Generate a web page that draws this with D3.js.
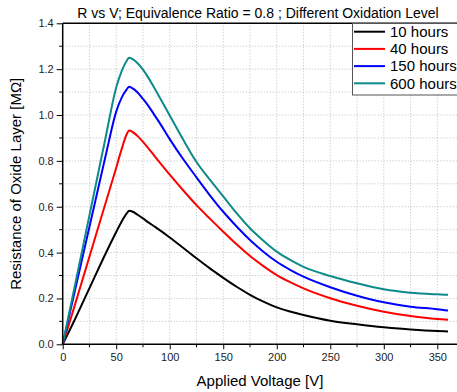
<!DOCTYPE html>
<html><head><meta charset="utf-8">
<script src="https://cdn.jsdelivr.net/npm/d3@7"></script>
<style>body{margin:0;background:#fff;}svg{display:block;font-family:"Liberation Sans",Arial,sans-serif;}</style>
</head><body><svg id="c" width="457" height="392"></svg>
<script>
const voltage = [0,10,20,30,40,50,55,60,62,65,70,75,80,85,90,100,112.5,125,137.5,150,162.5,175,187.5,200,212.5,225,250,275,300,325,350,360];
const r10h  = [0,0.095,0.195,0.295,0.395,0.49,0.535,0.572,0.582,0.579,0.565,0.549,0.532,0.516,0.500,0.466,0.421,0.375,0.331,0.29,0.251,0.216,0.186,0.161,0.143,0.128,0.103,0.087,0.074,0.065,0.058,0.056];
const r40h  = [0,0.15,0.305,0.46,0.615,0.77,0.85,0.918,0.932,0.927,0.908,0.883,0.855,0.826,0.797,0.74,0.672,0.607,0.548,0.491,0.436,0.385,0.341,0.302,0.271,0.244,0.201,0.168,0.142,0.123,0.110,0.107];
const r150h = [0,0.205,0.41,0.615,0.82,1.015,1.075,1.113,1.123,1.117,1.098,1.07,1.04,1.005,0.97,0.895,0.808,0.728,0.65,0.578,0.514,0.455,0.404,0.36,0.325,0.295,0.249,0.212,0.183,0.164,0.153,0.147];
const r600h = [0,0.225,0.45,0.675,0.9,1.12,1.19,1.238,1.25,1.245,1.226,1.198,1.163,1.123,1.082,0.998,0.893,0.795,0.718,0.645,0.572,0.506,0.452,0.404,0.368,0.338,0.298,0.266,0.240,0.225,0.218,0.216];
const seriesNames = ["10 hours","40 hours","150 hours","600 hours"];
const seriesColors = ["#000000","#ff0000","#0000ff","#0e8a8a"];
const xTicks = [0,50,100,150,200,250,300,350];
const yTicks = [0,0.2,0.4,0.6,0.8,1.0,1.2,1.4];
const titleText = "R vs V; Equivalence Ratio = 0.8 ; Different Oxidation Level";
const xLabel = "Applied Voltage [V]";
const yLabel = "Resistance of Oxide Layer [M\u03A9]";

const series = [r10h, r40h, r150h, r600h];
const svg = d3.select("#c");
const L = 62.7, T = 23.3, B = 344.3;
const x = d3.scaleLinear().domain([0,370]).range([L, L + 370*1.0703]);
const y = d3.scaleLinear().domain([0,1.4]).range([B, T]);

// grid
const xMinor = d3.range(0, 371, 25);
const yMinor = d3.range(0, 15).map(i => i/10);
const g = svg.append("g");
g.selectAll(".gx").data(xMinor.filter(v => v > 0)).enter().append("line")
  .attr("x1", d => x(d)).attr("x2", d => x(d)).attr("y1", T).attr("y2", B)
  .attr("stroke", "#bdbdbd").attr("stroke-width", 1).attr("stroke-dasharray", "1,2");
g.selectAll(".gy").data(yMinor.filter(v => v > 0)).enter().append("line")
  .attr("x1", L).attr("x2", x(370)).attr("y1", d => y(d)).attr("y2", d => y(d))
  .attr("stroke", "#bdbdbd").attr("stroke-width", 1).attr("stroke-dasharray", "1,2");

// curves
const line = d3.line().x((d,i) => x(voltage[i])).y(d => y(d)).curve(d3.curveMonotoneX);
series.forEach((s, k) => {
  svg.append("path").attr("d", line(s)).attr("fill", "none")
    .attr("stroke", seriesColors[k]).attr("stroke-width", 2);
});

// axes
const xAxis = d3.axisBottom(x).tickValues(xTicks).tickFormat(d3.format("d")).tickSize(5).tickPadding(4);
const xa = svg.append("g").attr("transform", `translate(0,${B})`).call(xAxis);
const yAxis = d3.axisLeft(y).tickValues(yTicks).tickFormat(d3.format(".1f")).tickSize(6).tickPadding(3);
const ya = svg.append("g").attr("transform", `translate(${L},0)`).call(yAxis);
[xa, ya].forEach(a => {
  a.select(".domain").remove();
  a.selectAll("text").attr("font-size", 11).attr("fill", "#222").attr("font-family", "Liberation Sans, Arial, sans-serif");
  a.selectAll("line").attr("stroke", "#000");
});
// minor ticks
svg.selectAll(".mx").data(xMinor.filter(v => v % 50 !== 0)).enter().append("line")
  .attr("x1", d => x(d)).attr("x2", d => x(d)).attr("y1", B).attr("y2", B + 3).attr("stroke", "#000");
svg.selectAll(".my").data(yMinor.filter((v,i) => i % 2 === 1)).enter().append("line")
  .attr("x1", L - 3.5).attr("x2", L).attr("y1", d => y(d)).attr("y2", d => y(d)).attr("stroke", "#000");
// frame
svg.append("line").attr("x1", L).attr("x2", L).attr("y1", T).attr("y2", B).attr("stroke", "#000").attr("stroke-width", 1.5);
svg.append("line").attr("x1", L).attr("x2", x(370)).attr("y1", B).attr("y2", B).attr("stroke", "#000").attr("stroke-width", 1.5);
svg.append("line").attr("x1", L).attr("x2", x(370)).attr("y1", T).attr("y2", T).attr("stroke", "#000").attr("stroke-width", 1.5);

// legend
const lg = svg.append("g");
lg.append("rect").attr("x", 352.5).attr("y", 23.5).attr("width", 120).attr("height", 71.5)
  .attr("fill", "#fff").attr("stroke", "#555").attr("stroke-width", 1);
seriesNames.forEach((n, k) => {
  const yy = 31.7 + k*17.2;
  lg.append("line").attr("x1", 354).attr("x2", 385).attr("y1", yy).attr("y2", yy)
    .attr("stroke", seriesColors[k]).attr("stroke-width", 2);
  lg.append("text").attr("x", 390).attr("y", yy + 5.3).attr("font-size", 15).attr("fill", "#000").text(n);
});

// titles
svg.append("text").attr("x", 258).attr("y", 18).attr("text-anchor", "middle").attr("font-size", 14).attr("fill", "#000").text(titleText);
svg.append("text").attr("x", 260).attr("y", 386).attr("text-anchor", "middle").attr("font-size", 15).attr("fill", "#000").text(xLabel);
svg.append("text").attr("transform", `translate(21,${(T+B)/2}) rotate(-90)`).attr("text-anchor", "middle").attr("font-size", 15).attr("fill", "#000").text(yLabel);
</script></body></html>
